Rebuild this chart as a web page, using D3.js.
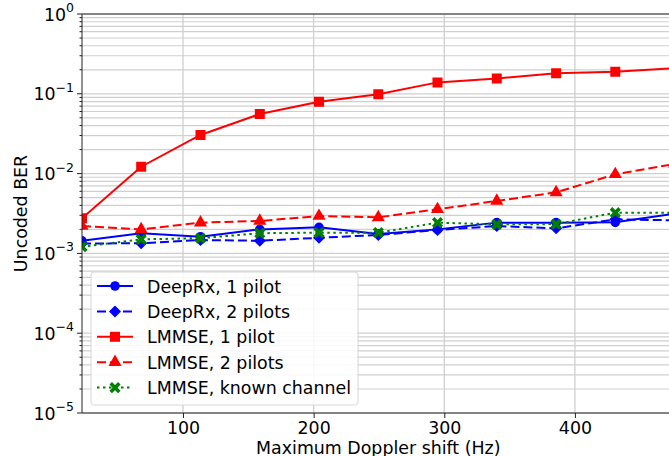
<!DOCTYPE html>
<html>
<head>
<meta charset="utf-8">
<script src="https://cdn.jsdelivr.net/npm/d3@7"></script>
<style>
  body { margin: 0; background: #fff; }
  svg { font-family: "DejaVu Sans", sans-serif; }
</style>
</head>
<body>
<svg width="669" height="456"></svg>
<script>
// Doppler shifts (Hz) and BER per receiver
const doppler = [22.7, 68.0, 113.4, 158.8, 204.1, 249.5, 294.8, 340.2, 385.6, 430.9, 476.3];
const deepRx1 = [1.44e-3, 1.79e-3, 1.62e-3, 2.0e-3, 2.12e-3, 1.75e-3, 2.0e-3, 2.43e-3, 2.43e-3, 2.45e-3, 3.15e-3];
const deepRx2 = [1.33e-3, 1.34e-3, 1.47e-3, 1.44e-3, 1.57e-3, 1.70e-3, 1.97e-3, 2.2e-3, 2.06e-3, 2.67e-3, 2.6e-3];
const lmmse1 = [2.75e-3, 0.0122, 0.0305, 0.0558, 0.0796, 0.0986, 0.139, 0.156, 0.181, 0.189, 0.21];
const lmmse2 = [2.2e-3, 2.0e-3, 2.43e-3, 2.55e-3, 2.94e-3, 2.83e-3, 3.57e-3, 4.54e-3, 5.82e-3, 9.8e-3, 0.0132];
const lmmseKnown = [1.21e-3, 1.5e-3, 1.55e-3, 1.79e-3, 1.82e-3, 1.82e-3, 2.43e-3, 2.31e-3, 2.33e-3, 3.24e-3, 3.24e-3];
const xTicks = [100, 200, 300, 400];
const yTicks = [1e-5, 1e-4, 1e-3, 1e-2, 1e-1, 1];

const series = [
  { name: 'DeepRx, 1 pilot', values: deepRx1, color: '#0000ff', dash: null, marker: 'circle' },
  { name: 'DeepRx, 2 pilots', values: deepRx2, color: '#0000ff', dash: '9,4', marker: 'diamond' },
  { name: 'LMMSE, 1 pilot', values: lmmse1, color: '#ff0000', dash: null, marker: 'square' },
  { name: 'LMMSE, 2 pilots', values: lmmse2, color: '#ff0000', dash: '9,4', marker: 'triangle' },
  { name: 'LMMSE, known channel', values: lmmseKnown, color: '#008000', dash: '2.5,3.5', marker: 'x' }
];

const FS = 17.4;
const svg = d3.select('svg');
const m = { left: 82, top: 14, right: 674.6, bottom: 413 };

const x = d3.scaleLinear().domain([22.7, 476.3]).range([m.left, m.right]);
const y = d3.scaleLog().domain([1e-5, 1]).range([m.bottom, m.top]);

const symbols = {
  circle: d3.symbol().type(d3.symbolCircle).size(72),
  square: d3.symbol().type(d3.symbolSquare).size(100),
  diamond: d3.symbol().type(d3.symbolSquare).size(72),
  triangle: d3.symbol().type(d3.symbolTriangle).size(75),
  x: d3.symbol().type(d3.symbolX).size(50)
};

function drawMarker(g, kind, color) {
  if (kind === 'x') {
    // chunky "X" like matplotlib's filled marker 'X'
    g.append('path').attr('d', symbols.x()).attr('stroke', color)
      .attr('stroke-width', 3.6).attr('fill', 'none');
  } else {
    g.append('path').attr('d', symbols[kind]()).attr('fill', color)
      .attr('transform', kind === 'diamond' ? 'rotate(45)' : null);
  }
}

svg.append('clipPath').attr('id', 'plot')
  .append('rect').attr('x', m.left).attr('y', m.top)
  .attr('width', m.right - m.left).attr('height', m.bottom - m.top);

// grid
const grid = svg.append('g');
const minorY = [];
for (let e = -5; e < 0; e++) for (let k = 2; k <= 9; k++) minorY.push(k * Math.pow(10, e));
grid.selectAll('.gy').data(minorY.concat(yTicks)).enter().append('line')
  .attr('x1', m.left).attr('x2', 669)
  .attr('y1', d => y(d)).attr('y2', d => y(d))
  .attr('stroke', '#cfcfcf').attr('stroke-width', 1.2);
grid.selectAll('.gx').data(xTicks).enter().append('line')
  .attr('x1', d => x(d)).attr('x2', d => x(d))
  .attr('y1', m.top).attr('y2', m.bottom)
  .attr('stroke', '#cfcfcf').attr('stroke-width', 1.3);

// lines + markers
const plot = svg.append('g').attr('clip-path', 'url(#plot)');
const line = d3.line().x((d, i) => x(doppler[i])).y(d => y(d));
series.forEach(s => {
  plot.append('path').datum(s.values)
    .attr('d', line).attr('fill', 'none')
    .attr('stroke', s.color).attr('stroke-width', 2)
    .attr('stroke-dasharray', s.dash);
  s.values.forEach((v, i) => {
    const g = plot.append('g').attr('transform', `translate(${x(doppler[i])},${y(v)})`);
    drawMarker(g, s.marker, s.color);
  });
});

// spines
svg.append('line').attr('x1', m.left).attr('x2', m.left).attr('y1', m.top).attr('y2', m.bottom)
  .attr('stroke', '#222').attr('stroke-width', 1);
svg.append('line').attr('x1', m.left).attr('x2', 669).attr('y1', m.top).attr('y2', m.top)
  .attr('stroke', '#222').attr('stroke-width', 1);
svg.append('line').attr('x1', m.left).attr('x2', 669).attr('y1', m.bottom).attr('y2', m.bottom)
  .attr('stroke', '#222').attr('stroke-width', 1);

// x axis
const xAxis = d3.axisBottom(x).tickValues(xTicks).tickSize(5).tickPadding(4).tickSizeOuter(0);
const gx = svg.append('g').attr('transform', `translate(0,${m.bottom})`).call(xAxis);
gx.select('.domain').remove();
gx.selectAll('text').attr('font-size', FS).attr('fill', '#000')
  .attr('font-family', '"DejaVu Sans", sans-serif');
gx.selectAll('line').attr('stroke', '#222');

// y axis: major ticks, minor ticks, 10^n labels
const gy = svg.append('g');
gy.selectAll('.ymaj').data(yTicks).enter().append('line')
  .attr('x1', m.left - 5).attr('x2', m.left).attr('y1', d => y(d)).attr('y2', d => y(d))
  .attr('stroke', '#222');
gy.selectAll('.ymin').data(minorY).enter().append('line')
  .attr('x1', m.left - 2.5).attr('x2', m.left).attr('y1', d => y(d)).attr('y2', d => y(d))
  .attr('stroke', '#222');
yTicks.forEach(t => {
  const e = Math.round(Math.log10(t));
  const txt = gy.append('text').attr('x', 74).attr('y', y(t) + 6.5)
    .attr('text-anchor', 'end').attr('font-size', FS);
  txt.append('tspan').text('10');
  txt.append('tspan').attr('dy', -8.5).attr('font-size', 12.5)
    .text(e === 0 ? '0' : '\u2212' + (-e));
});

svg.append('text').attr('transform', `translate(27,${(m.top + m.bottom) / 2}) rotate(-90)`)
  .attr('text-anchor', 'middle').attr('font-size', FS).text('Uncoded BER');
svg.append('text').attr('x', (m.left + m.right) / 2).attr('y', 454)
  .attr('text-anchor', 'middle').attr('font-size', FS).text('Maximum Doppler shift (Hz)');

// legend
const lg = svg.append('g').attr('transform', 'translate(91,272)');
lg.append('rect').attr('width', 267).attr('height', 133).attr('rx', 3)
  .attr('fill', 'rgba(255,255,255,0.85)').attr('stroke', '#d6d6d6');
series.forEach((s, i) => {
  const row = lg.append('g').attr('transform', `translate(0,${14 + i * 25.4})`);
  row.append('line').attr('x1', 6).attr('x2', 42).attr('stroke', s.color)
    .attr('stroke-width', 2).attr('stroke-dasharray', s.dash);
  drawMarker(row.append('g').attr('transform', 'translate(24,0)'), s.marker, s.color);
  row.append('text').attr('x', 56).attr('y', 6.5).attr('font-size', FS).text(s.name);
});
</script>
</body>
</html>
